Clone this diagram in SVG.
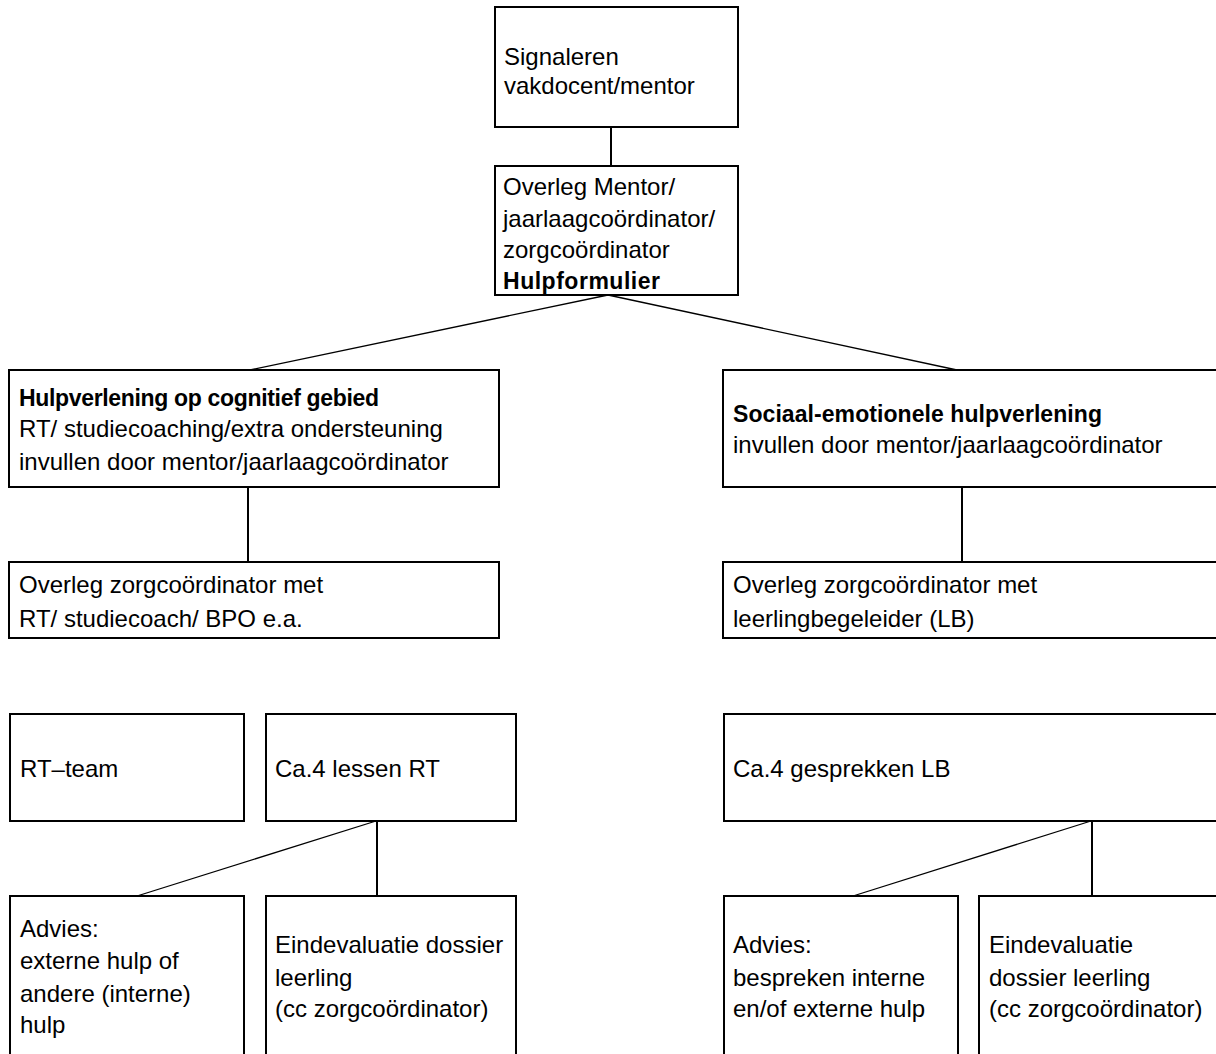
<svg xmlns="http://www.w3.org/2000/svg" width="1216" height="1054" viewBox="0 0 1216 1054">
<style>
.box{fill:#fff;stroke:#000;stroke-width:2}
.t{font-family:"Liberation Sans",Arial,sans-serif;font-size:24px;fill:#000}
.b{font-weight:bold;font-size:23px}
.c{stroke:#000;fill:none}
.v{stroke-width:2}
.d{stroke-width:1.3}
</style>
<rect width="1216" height="1054" fill="#fff"/>
<g id="connectors">
<line class="c v" x1="611" y1="127" x2="611" y2="166"/>
<line class="c d" x1="608" y1="295" x2="250" y2="370"/>
<line class="c d" x1="608" y1="295" x2="957" y2="370"/>
<line class="c v" x1="248" y1="487" x2="248" y2="562"/>
<line class="c v" x1="962" y1="487" x2="962" y2="562"/>
<line class="c d" x1="376" y1="821" x2="137" y2="896"/>
<line class="c v" x1="377" y1="821" x2="377" y2="896"/>
<line class="c d" x1="1091" y1="821" x2="853" y2="896"/>
<line class="c v" x1="1092" y1="821" x2="1092" y2="896"/>
</g>
<g id="signaleren">
<rect class="box" x="495" y="7" width="243" height="120"/>
<text class="t" x="504" y="65">Signaleren</text>
<text class="t" x="504" y="94">vakdocent/mentor</text>
</g>
<g id="overleg-mentor">
<rect class="box" x="495" y="166" width="243" height="129"/>
<text class="t" x="503" y="195">Overleg Mentor/</text>
<text class="t" x="503" y="227">jaarlaagcoördinator/</text>
<text class="t" x="503" y="258">zorgcoördinator</text>
<text class="t b" x="503" y="289" textLength="157">Hulpformulier</text>
</g>
<g id="cognitief">
<rect class="box" x="9" y="370" width="490" height="117"/>
<text class="t b" x="19" y="406" textLength="360">Hulpverlening op cognitief gebied</text>
<text class="t" x="19" y="437">RT/ studiecoaching/extra ondersteuning</text>
<text class="t" x="19" y="470">invullen door mentor/jaarlaagcoördinator</text>
</g>
<g id="sociaal">
<rect class="box" x="723" y="370" width="520" height="117"/>
<text class="t b" x="733" y="422" textLength="369">Sociaal-emotionele hulpverlening</text>
<text class="t" x="733" y="453">invullen door mentor/jaarlaagcoördinator</text>
</g>
<g id="overleg-rt">
<rect class="box" x="9" y="562" width="490" height="76"/>
<text class="t" x="19" y="593">Overleg zorgcoördinator met</text>
<text class="t" x="19" y="627">RT/ studiecoach/ BPO e.a.</text>
</g>
<g id="overleg-lb">
<rect class="box" x="723" y="562" width="520" height="76"/>
<text class="t" x="733" y="593">Overleg zorgcoördinator met</text>
<text class="t" x="733" y="627">leerlingbegeleider (LB)</text>
</g>
<g id="rt-team">
<rect class="box" x="10" y="714" width="234" height="107"/>
<text class="t" x="20" y="777">RT–team</text>
</g>
<g id="lessen-rt">
<rect class="box" x="266" y="714" width="250" height="107"/>
<text class="t" x="275" y="777">Ca.4 lessen RT</text>
</g>
<g id="gesprekken-lb">
<rect class="box" x="724" y="714" width="520" height="107"/>
<text class="t" x="733" y="777">Ca.4 gesprekken LB</text>
</g>
<g id="advies-rt">
<rect class="box" x="10" y="896" width="234" height="180"/>
<text class="t" x="20" y="937">Advies:</text>
<text class="t" x="20" y="969">externe hulp of</text>
<text class="t" x="20" y="1002">andere (interne)</text>
<text class="t" x="20" y="1033">hulp</text>
</g>
<g id="eindevaluatie-rt">
<rect class="box" x="266" y="896" width="250" height="180"/>
<text class="t" x="275" y="953">Eindevaluatie dossier</text>
<text class="t" x="275" y="986">leerling</text>
<text class="t" x="275" y="1017">(cc zorgcoördinator)</text>
</g>
<g id="advies-lb">
<rect class="box" x="724" y="896" width="234" height="180"/>
<text class="t" x="733" y="953">Advies:</text>
<text class="t" x="733" y="986">bespreken interne</text>
<text class="t" x="733" y="1017">en/of externe hulp</text>
</g>
<g id="eindevaluatie-lb">
<rect class="box" x="979" y="896" width="260" height="180"/>
<text class="t" x="989" y="953">Eindevaluatie</text>
<text class="t" x="989" y="986">dossier leerling</text>
<text class="t" x="989" y="1017">(cc zorgcoördinator)</text>
</g>
</svg>
